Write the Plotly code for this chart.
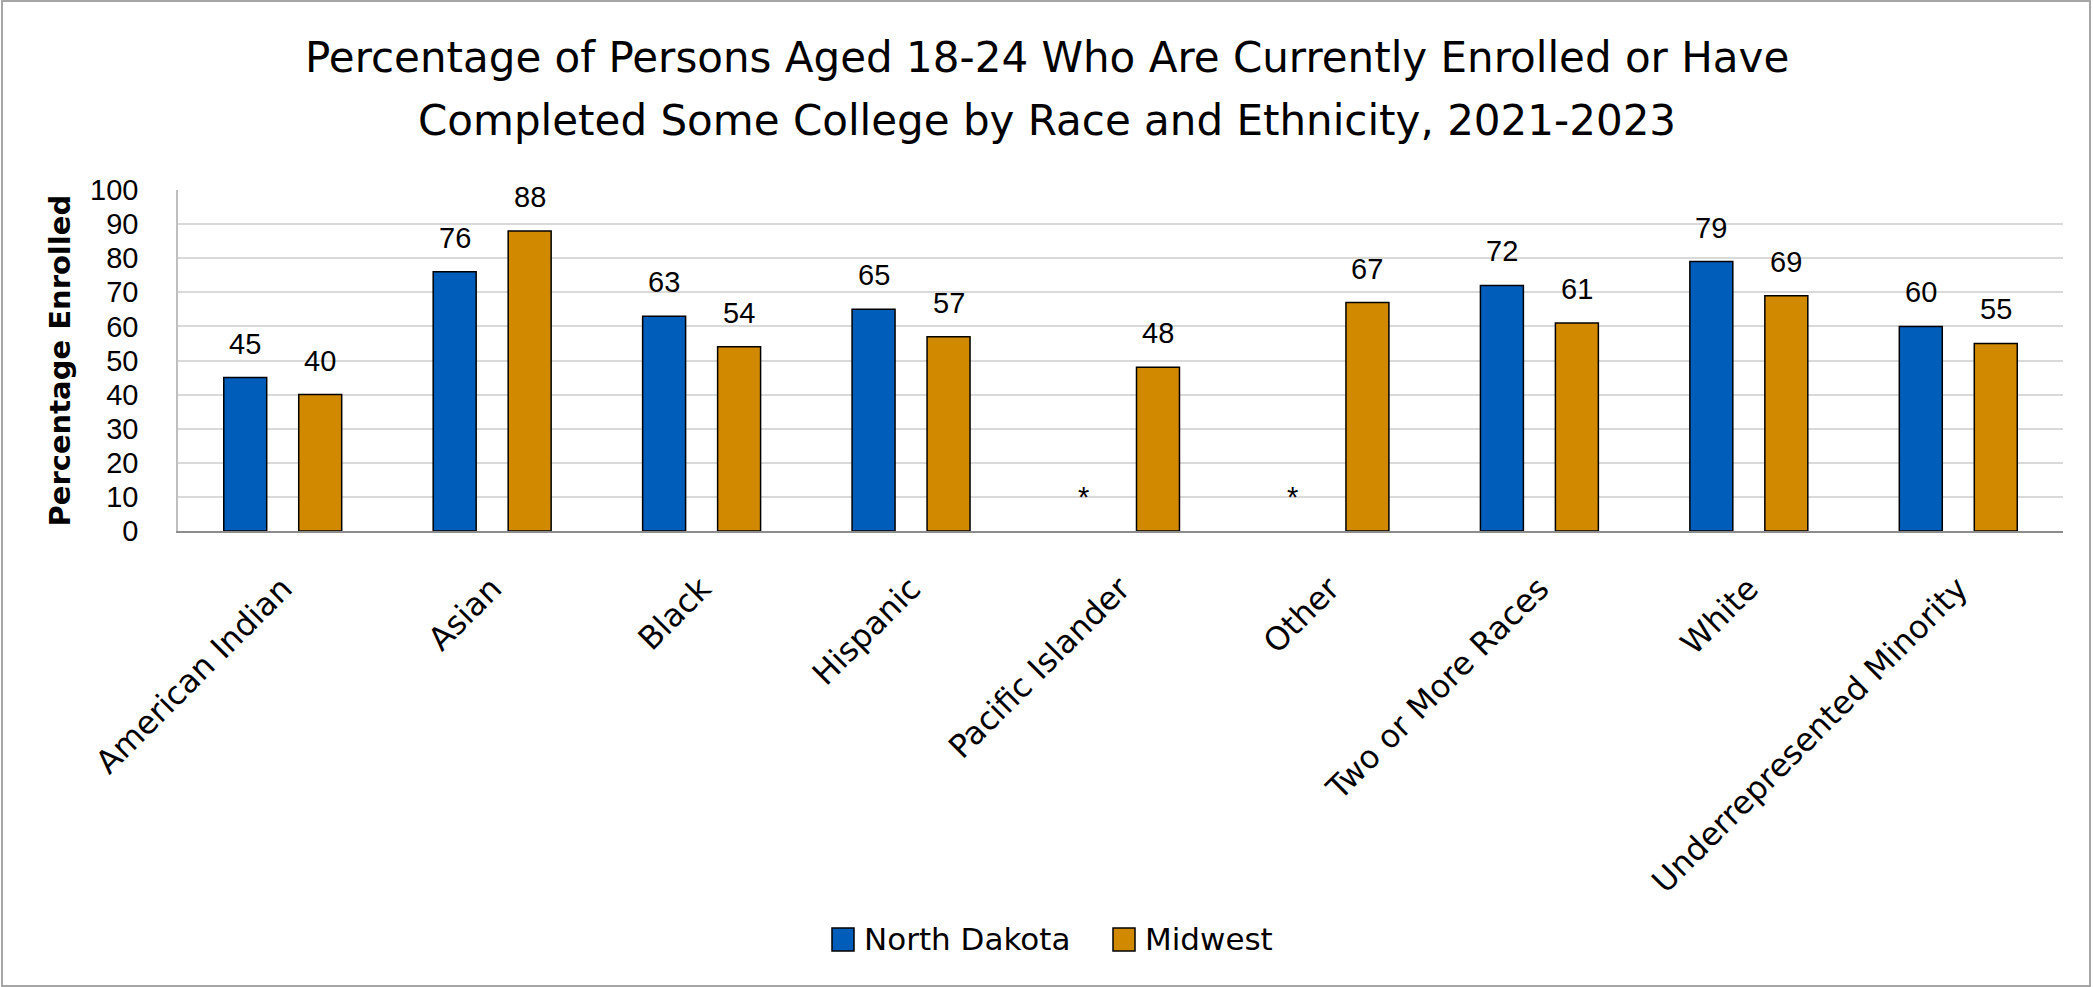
import plotly.graph_objects as go

# Enrollment shares (%) by race/ethnicity, 2021-2023
categories = [
    "American Indian", "Asian", "Black", "Hispanic", "Pacific Islander",
    "Other", "Two or More Races", "White", "Underrepresented Minority",
]
north_dakota = [45, 76, 63, 65, None, None, 72, 79, 60]
midwest = [40, 88, 54, 57, 48, 67, 61, 69, 55]
suppressed_mark = "*"

y_ticks = list(range(0, 101, 10))

title_lines = [
    "Percentage of Persons Aged 18-24 Who Are Currently Enrolled or Have",
    "Completed Some College by Race and Ethnicity, 2021-2023",
]

ND_COLOR = "#005DB9"
MW_COLOR = "#D18A00"
UI_FONT = "DejaVu Sans"
NUM_FONT = "Liberation Sans"
LABEL_FONT = "Liberation Sans"

W, H = 2093, 987
M_L, M_R, M_T, M_B = 178, 30, 190, 456
PW, PH = W - M_L - M_R, H - M_T - M_B

BARGAP = 0.284
GROUPGAP = 0.427
slot_offset = (1 - BARGAP) / 4  # centre of each bar within its category


def px_x(px):
    return (px - M_L) / PW


def px_y(py):
    return (H - M_B - py) / PH


fig = go.Figure()
fig.add_trace(go.Bar(
    name="North Dakota", x=categories, y=north_dakota,
    marker=dict(color=ND_COLOR, line=dict(color="#000000", width=1.5)),
    showlegend=False,
))
fig.add_trace(go.Bar(
    name="Midwest", x=categories, y=midwest,
    marker=dict(color=MW_COLOR, line=dict(color="#000000", width=1.5)),
    showlegend=False,
))

annotations = []
for i, (nd, mw) in enumerate(zip(north_dakota, midwest)):
    for val, off in ((nd, -slot_offset), (mw, slot_offset)):
        annotations.append(dict(
            x=i + off, y=0 if val is None else val, xref="x", yref="y",
            text=suppressed_mark if val is None else f"{val}",
            showarrow=False, yanchor="bottom", yshift=16,
            font=dict(family=LABEL_FONT, size=29, color="#000000"),
        ))

# two-line chart title, centred on the whole figure
for line, cy in zip(title_lines, (58, 121)):
    annotations.append(dict(
        x=px_x(W / 2), y=px_y(cy), xref="paper", yref="paper",
        text=line, showarrow=False, xanchor="center", yanchor="middle",
        font=dict(family=UI_FONT, size=42, color="#000000"),
    ))

# y-axis title
annotations.append(dict(
    x=px_x(59), y=0.5, xref="paper", yref="paper", textangle=-90,
    text="<b>Percentage Enrolled</b>", showarrow=False,
    xanchor="center", yanchor="middle",
    font=dict(family=UI_FONT, size=29, color="#000000"),
))

# legend entries
legend_items = [("North Dakota", ND_COLOR, 832), ("Midwest", MW_COLOR, 1113)]
shapes = []
for name, color, x0 in legend_items:
    shapes.append(dict(
        type="rect", xref="paper", yref="paper",
        x0=px_x(x0), x1=px_x(x0 + 22), y0=px_y(951), y1=px_y(928),
        fillcolor=color, line=dict(color="#000000", width=1.5),
    ))
    annotations.append(dict(
        x=px_x(x0 + 30), y=px_y(939), xref="paper", yref="paper",
        text=name, showarrow=False, xanchor="left", yanchor="middle",
        font=dict(family=UI_FONT, size=31, color="#000000"),
    ))

# outer chart border
shapes.append(dict(
    type="rect", xref="paper", yref="paper",
    x0=px_x(2), x1=px_x(2090), y0=px_y(986), y1=px_y(1),
    line=dict(color="#A6A6A6", width=2), fillcolor="rgba(0,0,0,0)", layer="below",
))

fig.update_layout(
    width=W, height=H,
    margin=dict(l=M_L, r=M_R, t=M_T, b=M_B),
    paper_bgcolor="#FFFFFF", plot_bgcolor="#FFFFFF",
    barmode="group", bargap=BARGAP, bargroupgap=GROUPGAP,
    font=dict(family=UI_FONT, color="#000000"),
    annotations=annotations,
    shapes=shapes,
    xaxis=dict(
        type="category", tickangle=-45, ticks="",
        tickfont=dict(family=UI_FONT, size=32, color="#000000"),
        showline=True, linecolor="#8C8C8C", linewidth=2,
        showgrid=False, ticklabelstandoff=24,
    ),
    yaxis=dict(
        range=[0, 100], tickvals=y_ticks, ticks="",
        tickfont=dict(family=NUM_FONT, size=29, color="#000000"),
        showgrid=True, gridcolor="#D9D9D9", gridwidth=1.5,
        showline=True, linecolor="#BFBFBF", linewidth=1.5,
        zeroline=False, ticklabelstandoff=32,
    ),
)

fig.write_html("out.html")
